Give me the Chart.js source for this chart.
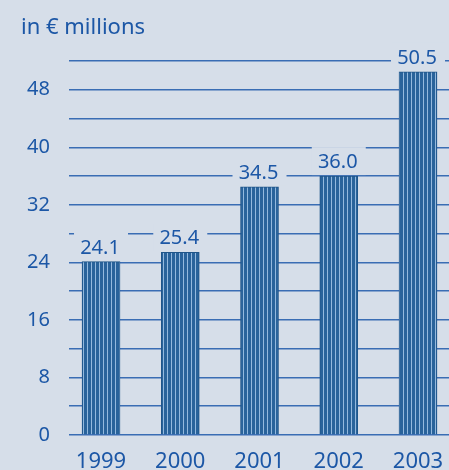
<!DOCTYPE html>
<html>
<head>
<meta charset="utf-8">
<script src="https://cdn.jsdelivr.net/npm/chart.js@4.4.1/dist/chart.umd.min.js"></script>
<style>
  html, body { margin: 0; padding: 0; background: #d6dee9; overflow: hidden; }
  canvas { display: block; }
</style>
</head>
<body>
<canvas id="chart" width="449" height="470"></canvas>
<script>
const years = [1999, 2000, 2001, 2002, 2003];
const revenue = [24.1, 25.4, 34.5, 36.0, 50.5];
const yLabelTicks = [0, 8, 16, 24, 32, 40, 48];
const unitLabel = "in € millions";

const bg = "#d6dee9";
const ink = "#1c57a6";
const gridColor = "#3a6db4";
const font = "'Noto Sans', 'Open Sans', sans-serif";

// vertical pin-stripe fill like the printed bars
function stripes() {
  const c = document.createElement("canvas");
  c.width = 4;
  c.height = 4;
  const g = c.getContext("2d");
  g.fillStyle = "#29639b";
  g.fillRect(0, 0, 4, 4);
  g.fillStyle = "#94b9de";
  g.fillRect(3, 0, 1, 4);
  return g.createPattern(c, "repeat");
}

const titleText = {
  id: "titleText",
  afterDraw(chart) {
    const ctx = chart.ctx;
    ctx.save();
    ctx.fillStyle = ink;
    ctx.font = "22px " + font;
    ctx.textAlign = "left";
    ctx.textBaseline = "alphabetic";
    ctx.fillText(unitLabel, 21, 34);
    ctx.restore();
  },
};

const valueLabels = {
  id: "valueLabels",
  beforeDatasetsDraw(chart) {
    // knock the grid lines out behind each value label
    const ctx = chart.ctx;
    ctx.save();
    ctx.fillStyle = bg;
    chart.getDatasetMeta(0).data.forEach((bar) => {
      ctx.fillRect(bar.x - 27, bar.y - 29, 54, 28);
    });
    ctx.restore();
  },
  afterDatasetsDraw(chart) {
    const ctx = chart.ctx;
    ctx.save();
    ctx.fillStyle = ink;
    ctx.font = "20px " + font;
    ctx.textAlign = "center";
    ctx.textBaseline = "alphabetic";
    chart.getDatasetMeta(0).data.forEach((bar, i) => {
      ctx.fillText(revenue[i].toFixed(1), bar.x - 1, bar.y - 8);
    });
    ctx.restore();
  },
};

const canvas = document.getElementById("chart");

new Chart(canvas, {
  type: "bar",
  data: {
    datasets: [
      {
        data: years.map((yr, i) => ({ x: yr, y: revenue[i] })),
        backgroundColor: stripes(),
        borderColor: "#1f5589",
        borderWidth: 1,
        borderSkipped: "bottom",
        barThickness: 38,
      },
    ],
  },
  options: {
    responsive: false,
    animation: false,
    events: [],
    layout: { padding: { top: 61, left: 0, right: 0, bottom: 0 } },
    plugins: {
      legend: { display: false },
      tooltip: { enabled: false },
    },
    scales: {
      x: {
        type: "linear",
        offset: false,
        min: years[0] - 0.404,
        max: years[years.length - 1] + 0.391,
        grid: { display: false, offset: false },
        border: { display: false },
        afterBuildTicks(axis) {
          axis.ticks = years.map((v) => ({ value: v }));
        },
        afterFit(axis) {
          axis.height = 35;
          axis.paddingLeft = 0;
          axis.paddingRight = 0;
        },
        ticks: {
          autoSkip: false,
          maxRotation: 0,
          padding: 6,
          color: ink,
          font: { family: font, size: 22 },
          callback: (v) => String(v),
        },
      },
      y: {
        min: 0,
        max: 52,
        grid: { color: gridColor, lineWidth: 1.5, drawTicks: false },
        border: { display: false },
        afterFit(axis) {
          axis.width = 69;
          axis.paddingTop = 0;
          axis.paddingBottom = 0;
        },
        ticks: {
          stepSize: 4,
          padding: 19,
          color: ink,
          font: { family: font, size: 20 },
          callback: (v) => (yLabelTicks.includes(v) ? String(v) : ""),
        },
      },
    },
  },
  plugins: [titleText, valueLabels],
});
</script>
</body>
</html>
